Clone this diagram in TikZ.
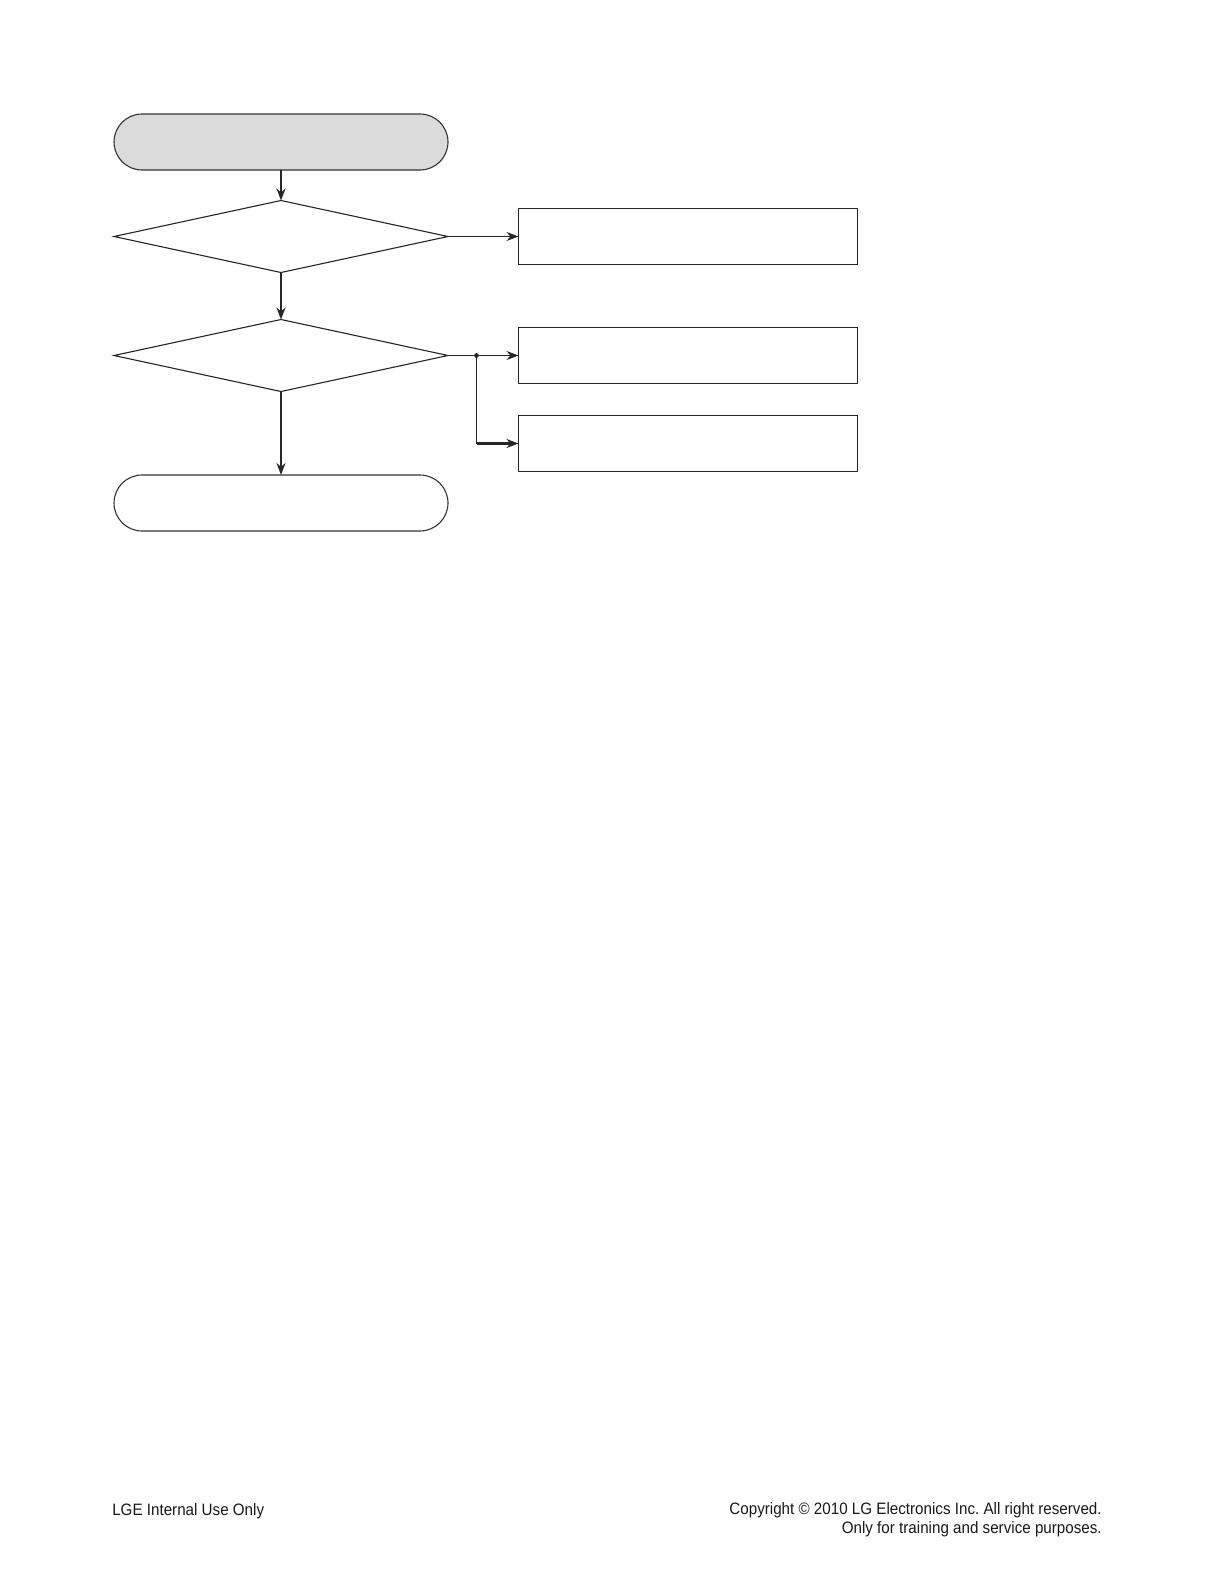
\documentclass[tikz,border=0pt]{standalone}
\usepackage{fontspec}
\setmainfont{Liberation Sans}
\newfontfamily\footfont[FakeStretch=0.92]{Liberation Sans}
\usetikzlibrary{shapes.geometric,shapes.misc,arrows.meta}
\begin{document}
\frenchspacing
\begin{tikzpicture}[x=1pt,y=-1pt,
  every node/.style={inner sep=0pt,outer sep=0pt},
  term/.style={rounded rectangle,draw=black!80,line width=1.1pt,minimum width=334pt,minimum height=56pt},
  decide/.style={diamond,draw=black!85,line width=1.1pt,minimum width=334pt,minimum height=72pt,shape aspect=4.64},
  procbox/.style={rectangle,draw=black!85,line width=1.2pt,minimum width=339pt,minimum height=56pt},
  flow/.style={draw=black!85,line width=1.7pt,-{Stealth[length=12pt,width=9pt]}},
  thinflow/.style={draw=black!85,line width=1.1pt,-{Stealth[length=12pt,width=9pt]}},
  thickflow/.style={draw=black!85,line width=2.2pt,-{Stealth[length=12pt,width=9pt]}},
  foot/.style={font=\footfont\fontsize{16.5}{18}\selectfont,text=black!90}]
\useasboundingbox (0,0) rectangle (1218,1588);
\fill[white] (0,0) rectangle (1218,1588);

\node[term,fill=black!14] (start) at (281,142) {};
\node[decide] (d1) at (281,236.5) {};
\node[decide] (d2) at (281,355.5) {};
\node[term] (stop) at (281,503) {};

\node[procbox] (b1) at (688,236.5) {};
\node[procbox] (b2) at (688,355.5) {};
\node[procbox] (b3) at (688,443.5) {};

\coordinate (j) at (476.5,355.5);

\draw[flow] (start.south) -- (d1.north);
\draw[flow] (d1.south) -- (d2.north);
\draw[flow] (d2.south) -- (stop.north);
\draw[thinflow] (d1.east) -- (b1.west);
\draw[draw=black!85,line width=1.1pt] (d2.east) -- (j);
\draw[thinflow] (j) -- (b2.west);
\draw[draw=black!85,line width=1.1pt] (j) -- (j |- b3.west);
\draw[thickflow] (j |- b3.west) -- (b3.west);
\fill[black!85] (j) circle (2.4pt);

\node[foot,anchor=base west] (fl) at (112.3,1515) {LGE Internal Use Only};
\node[foot,anchor=base east] (fr1) at (1101.7,1514.3) {Copyright © 2010 LG Electronics Inc. All right reserved.};
\node[foot,anchor=base east] (fr2) at (1101.7,1533) {Only for training and service purposes.};
\end{tikzpicture}
\end{document}
